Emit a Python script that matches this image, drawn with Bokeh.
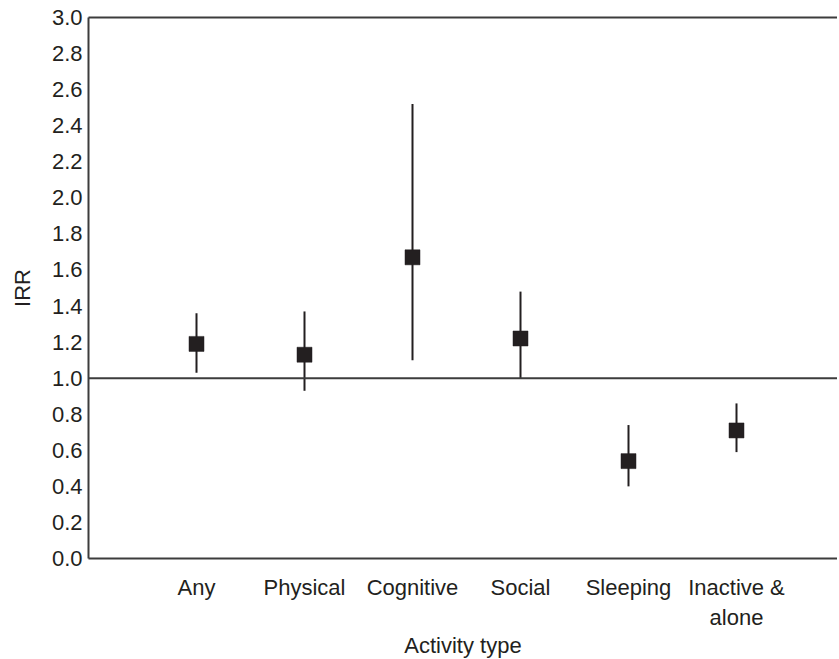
from bokeh.plotting import figure
from bokeh.models import (ColumnDataSource, FixedTicker, Span, LinearAxis, Range1d,
                          CustomJSTickFormatter)
from bokeh.embed import file_html
from bokeh.resources import INLINE

# ---- data ----
categories = ["Any", "Physical", "Cognitive", "Social", "Sleeping", "Inactive &\nalone"]
irr = [1.19, 1.13, 1.67, 1.22, 0.54, 0.71]
ci_lower = [1.03, 0.93, 1.10, 1.00, 0.40, 0.59]
ci_upper = [1.36, 1.37, 2.52, 1.48, 0.74, 0.86]
y_ticks = [0.0, 0.2, 0.4, 0.6, 0.8, 1.0, 1.2, 1.4, 1.6, 1.8, 2.0, 2.2, 2.4, 2.6, 2.8, 3.0]
reference_line = 1.0

positions = list(range(1, len(categories) + 1))

INK = "#231f20"
AXIS = "#3c3c3c"
FONT = "Liberation Sans"
FS = "22px"

FRAME_W = 749

src = ColumnDataSource(dict(x=positions, irr=irr, lo=ci_lower, hi=ci_upper))

p = figure(frame_width=FRAME_W, frame_height=541, output_backend="svg", toolbar_location=None,
           x_range=Range1d(0, FRAME_W / 108), y_range=Range1d(0, 3.0),
           min_border_left=88, min_border_top=17, min_border_right=0, min_border_bottom=0)
p.outline_line_color = None
p.grid.visible = False
p.background_fill_color = "white"
p.border_fill_color = "white"

# whiskers (CI)
p.segment(x0="x", y0="lo", x1="x", y1="hi", source=src, line_color=INK, line_width=2)
# reference line at IRR = 1
p.add_layout(Span(location=reference_line, dimension="width", line_color=AXIS, line_width=2))
# point estimates
p.scatter(x="x", y="irr", source=src, marker="square", size=15, fill_color=INK,
          line_color=INK, line_width=0.5)

# x axis
xa = p.xaxis[0]
xa.ticker = FixedTicker(ticks=positions)
xa.major_label_overrides = {pos: cat for pos, cat in zip(positions, categories)}
xa.axis_label = "Activity type"

# y axis
ya = p.yaxis[0]
ya.ticker = FixedTicker(ticks=y_ticks)
ya.formatter = CustomJSTickFormatter(code="return tick.toFixed(1);")
ya.axis_label = "IRR"

for ax in (xa, ya):
    ax.axis_line_color = AXIS
    ax.axis_line_width = 2
    ax.major_tick_line_color = None
    ax.minor_tick_line_color = None
    ax.major_label_text_font = FONT
    ax.major_label_text_font_size = FS
    ax.major_label_text_color = INK
    ax.axis_label_text_font = FONT
    ax.axis_label_text_font_size = FS
    ax.axis_label_text_color = INK
    ax.axis_label_text_font_style = "normal"

xa.major_label_standoff = 10
xa.axis_label_standoff = 0
ya.major_label_standoff = 0
ya.axis_label_standoff = 14

# top border line
top = LinearAxis(ticker=FixedTicker(ticks=[]), axis_line_color=AXIS, axis_line_width=2,
                 major_tick_line_color=None, minor_tick_line_color=None,
                 major_label_text_font_size="0px")
p.add_layout(top, "above")

open("out.html", "w").write(file_html(p, INLINE))
